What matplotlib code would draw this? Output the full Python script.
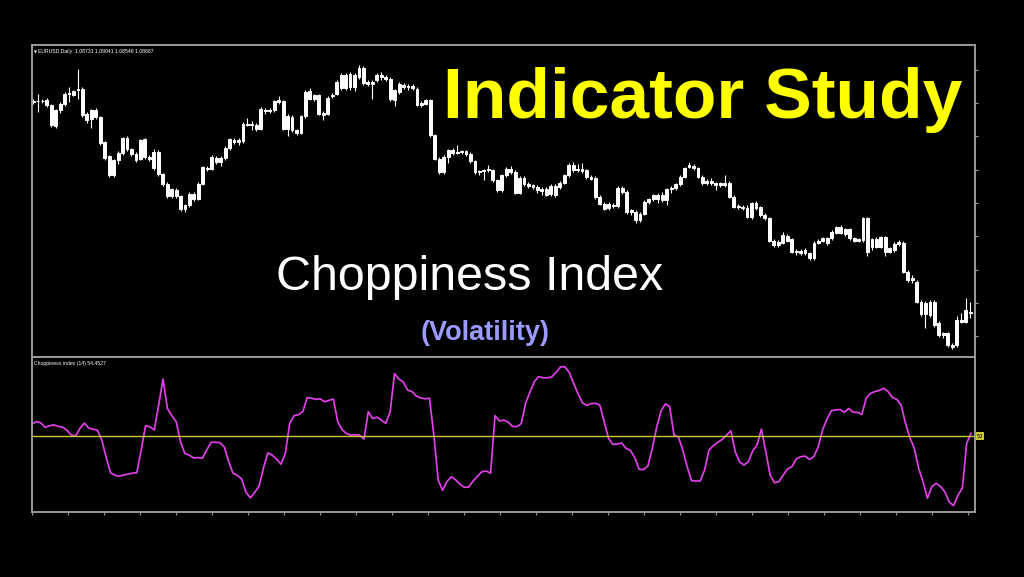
import matplotlib
matplotlib.use("Agg")
import matplotlib.pyplot as plt
import matplotlib.transforms as mtransforms
from matplotlib.ticker import MultipleLocator
import numpy as np

# ---------------- data ----------------
opens = [
    1.1503, 1.1507, 1.1505, 1.1508, 1.1493, 1.1431, 1.1478, 1.1498, 1.1526, 1.1525,
    1.1538, 1.1543, 1.1468, 1.1451, 1.1480, 1.1458, 1.1383, 1.1340, 1.1283, 1.1328,
    1.1351, 1.1395, 1.1361, 1.1348, 1.1333, 1.1391, 1.1338, 1.1353, 1.1353, 1.1286,
    1.1258, 1.1220, 1.1240, 1.1220, 1.1193, 1.1193, 1.1228, 1.1213, 1.1258, 1.1305,
    1.1303, 1.1336, 1.1323, 1.1335, 1.1365, 1.1389, 1.1383, 1.1385, 1.1435, 1.1438,
    1.1435, 1.1423, 1.1478, 1.1475, 1.1478, 1.1503, 1.1505, 1.1423, 1.1458, 1.1418,
    1.1411, 1.1460, 1.1535, 1.1513, 1.1523, 1.1471, 1.1468, 1.1521, 1.1528, 1.1545,
    1.1585, 1.1548, 1.1583, 1.1578, 1.1605, 1.1563, 1.1558, 1.1568, 1.1585, 1.1578,
    1.1573, 1.1508, 1.1533, 1.1555, 1.1548, 1.1551, 1.1543, 1.1495, 1.1498, 1.1508,
    1.1403, 1.1333, 1.1293, 1.1338, 1.1358, 1.1351, 1.1353, 1.1355, 1.1348, 1.1325,
    1.1293, 1.1295, 1.1298, 1.1298, 1.1268, 1.1238, 1.1283, 1.1303, 1.1293, 1.1231,
    1.1275, 1.1258, 1.1253, 1.1248, 1.1243, 1.1243, 1.1228, 1.1251, 1.1248, 1.1261,
    1.1283, 1.1315, 1.1298, 1.1303, 1.1298, 1.1278, 1.1275, 1.1218, 1.1198, 1.1185,
    1.1195, 1.1191, 1.1245, 1.1233, 1.1178, 1.1173, 1.1148, 1.1168, 1.1203, 1.1211,
    1.1211, 1.1225, 1.1209, 1.1241, 1.1244, 1.1256, 1.1279, 1.1309, 1.1311, 1.1304,
    1.1279, 1.1259, 1.1267, 1.1259, 1.1254, 1.1254, 1.1261, 1.1219, 1.1189, 1.1189,
    1.1184, 1.1157, 1.1199, 1.1187, 1.1164, 1.1154, 1.1087, 1.1074, 1.1081, 1.1101,
    1.1091, 1.1054, 1.1057, 1.1049, 1.1049, 1.1034, 1.1081, 1.1087, 1.1094, 1.1094,
    1.1111, 1.1127, 1.1107, 1.1121, 1.1094, 1.1087, 1.1089, 1.1154, 1.1069, 1.1091,
    1.1069, 1.1097, 1.1054, 1.1059, 1.1077, 1.1081, 1.0994, 1.0969, 1.0964, 1.0904,
    1.0867, 1.0864, 1.0904, 1.0841, 1.0804, 1.0809, 1.0774, 1.0774, 1.0849, 1.0844,
    1.08731,
]
closes = [
    1.1507, 1.1505, 1.1507, 1.1493, 1.1433, 1.1478, 1.1498, 1.1528, 1.1529, 1.1535,
    1.1541, 1.1465, 1.1448, 1.1478, 1.1458, 1.1380, 1.1335, 1.1283, 1.1328, 1.1351,
    1.1395, 1.1361, 1.1348, 1.1328, 1.1388, 1.1338, 1.1331, 1.1305, 1.1286, 1.1258,
    1.1220, 1.1241, 1.1220, 1.1183, 1.1183, 1.1228, 1.1213, 1.1258, 1.1307, 1.1301,
    1.1338, 1.1323, 1.1335, 1.1365, 1.1391, 1.1383, 1.1390, 1.1438, 1.1438, 1.1435,
    1.1423, 1.1483, 1.1475, 1.1478, 1.1505, 1.1508, 1.1423, 1.1461, 1.1418, 1.1411,
    1.1460, 1.1533, 1.1513, 1.1523, 1.1468, 1.1465, 1.1516, 1.1525, 1.1563, 1.1585,
    1.1545, 1.1588, 1.1548, 1.1605, 1.1561, 1.1558, 1.1563, 1.1585, 1.1578, 1.1573,
    1.1511, 1.1538, 1.1558, 1.1548, 1.1551, 1.1546, 1.1495, 1.1501, 1.1508, 1.1403,
    1.1333, 1.1293, 1.1338, 1.1358, 1.1351, 1.1353, 1.1355, 1.1348, 1.1325, 1.1293,
    1.1295, 1.1298, 1.1301, 1.1268, 1.1238, 1.1283, 1.1303, 1.1293, 1.1231, 1.1275,
    1.1258, 1.1251, 1.1248, 1.1238, 1.1236, 1.1225, 1.1251, 1.1223, 1.1261, 1.1283,
    1.1315, 1.1298, 1.1303, 1.1295, 1.1278, 1.1273, 1.1218, 1.1198, 1.1183, 1.1198,
    1.1191, 1.1245, 1.1233, 1.1173, 1.1173, 1.1148, 1.1168, 1.1203, 1.1211, 1.1223,
    1.1225, 1.1209, 1.1241, 1.1244, 1.1256, 1.1279, 1.1304, 1.1314, 1.1304, 1.1279,
    1.1259, 1.1267, 1.1259, 1.1254, 1.1259, 1.1261, 1.1219, 1.1189, 1.1191, 1.1184,
    1.1159, 1.1199, 1.1184, 1.1164, 1.1154, 1.1087, 1.1074, 1.1084, 1.1104, 1.1087,
    1.1054, 1.1057, 1.1049, 1.1059, 1.1034, 1.1081, 1.1087, 1.1094, 1.1079, 1.1114,
    1.1127, 1.1111, 1.1121, 1.1094, 1.1087, 1.1091, 1.1154, 1.1054, 1.1091, 1.1069,
    1.1097, 1.1054, 1.1064, 1.1077, 1.1083, 1.0994, 1.0969, 1.0974, 1.0904, 1.0867,
    1.0901, 1.0904, 1.0834, 1.0804, 1.0809, 1.0774, 1.0769, 1.0849, 1.0844, 1.0879,
    1.08687,
]
highs = [
    1.1512, 1.1528, 1.1513, 1.1514, 1.1497, 1.1482, 1.1503, 1.1533, 1.1548, 1.1540,
    1.1603, 1.1547, 1.1472, 1.1483, 1.1486, 1.1462, 1.1387, 1.1345, 1.1333, 1.1356,
    1.1399, 1.1400, 1.1366, 1.1352, 1.1393, 1.1396, 1.1345, 1.1362, 1.1358, 1.1290,
    1.1262, 1.1246, 1.1245, 1.1225, 1.1198, 1.1233, 1.1233, 1.1262, 1.1312, 1.1310,
    1.1344, 1.1341, 1.1340, 1.1370, 1.1396, 1.1394, 1.1395, 1.1443, 1.1455, 1.1445,
    1.1440, 1.1488, 1.1484, 1.1484, 1.1510, 1.1520, 1.1510, 1.1466, 1.1463, 1.1423,
    1.1465, 1.1538, 1.1545, 1.1528, 1.1528, 1.1476, 1.1521, 1.1530, 1.1568, 1.1590,
    1.1590, 1.1593, 1.1590, 1.1615, 1.1612, 1.1568, 1.1568, 1.1590, 1.1592, 1.1583,
    1.1578, 1.1543, 1.1563, 1.1560, 1.1556, 1.1556, 1.1548, 1.1506, 1.1513, 1.1513,
    1.1408, 1.1338, 1.1343, 1.1363, 1.1365, 1.1375, 1.1360, 1.1360, 1.1352, 1.1330,
    1.1300, 1.1303, 1.1315, 1.1303, 1.1272, 1.1288, 1.1308, 1.1310, 1.1298, 1.1280,
    1.1280, 1.1263, 1.1258, 1.1253, 1.1248, 1.1248, 1.1256, 1.1256, 1.1266, 1.1288,
    1.1320, 1.1323, 1.1318, 1.1320, 1.1303, 1.1283, 1.1280, 1.1223, 1.1203, 1.1203,
    1.1200, 1.1250, 1.1250, 1.1238, 1.1183, 1.1178, 1.1173, 1.1208, 1.1216, 1.1228,
    1.1230, 1.1234, 1.1246, 1.1250, 1.1261, 1.1284, 1.1309, 1.1324, 1.1316, 1.1309,
    1.1284, 1.1272, 1.1275, 1.1264, 1.1264, 1.1283, 1.1266, 1.1224, 1.1196, 1.1194,
    1.1194, 1.1204, 1.1206, 1.1192, 1.1169, 1.1159, 1.1092, 1.1089, 1.1112, 1.1106,
    1.1096, 1.1062, 1.1062, 1.1064, 1.1054, 1.1086, 1.1092, 1.1099, 1.1099, 1.1119,
    1.1132, 1.1135, 1.1126, 1.1126, 1.1099, 1.1096, 1.1159, 1.1159, 1.1096, 1.1097,
    1.1102, 1.1102, 1.1069, 1.1082, 1.1090, 1.1086, 1.0999, 1.0985, 1.0969, 1.0909,
    1.0906, 1.0909, 1.0909, 1.0846, 1.0814, 1.0814, 1.0779, 1.0862, 1.0870, 1.0914,
    1.09041,
]
lows = [
    1.1497, 1.1473, 1.1499, 1.1488, 1.1428, 1.1426, 1.1470, 1.1492, 1.1503, 1.1520,
    1.1513, 1.1458, 1.1440, 1.1425, 1.1452, 1.1374, 1.1328, 1.1278, 1.1278, 1.1318,
    1.1345, 1.1355, 1.1340, 1.1322, 1.1328, 1.1332, 1.1325, 1.1300, 1.1281, 1.1252,
    1.1215, 1.1214, 1.1215, 1.1176, 1.1172, 1.1188, 1.1205, 1.1208, 1.1253, 1.1296,
    1.1298, 1.1316, 1.1310, 1.1330, 1.1360, 1.1378, 1.1375, 1.1380, 1.1430, 1.1420,
    1.1415, 1.1418, 1.1468, 1.1470, 1.1472, 1.1498, 1.1418, 1.1400, 1.1413, 1.1405,
    1.1406, 1.1455, 1.1508, 1.1505, 1.1463, 1.1450, 1.1463, 1.1516, 1.1523, 1.1540,
    1.1540, 1.1540, 1.1535, 1.1572, 1.1555, 1.1550, 1.1513, 1.1562, 1.1570, 1.1565,
    1.1505, 1.1490, 1.1528, 1.1543, 1.1540, 1.1540, 1.1490, 1.1488, 1.1493, 1.1398,
    1.1328, 1.1288, 1.1288, 1.1320, 1.1345, 1.1346, 1.1346, 1.1342, 1.1320, 1.1288,
    1.1283, 1.1270, 1.1292, 1.1263, 1.1232, 1.1233, 1.1278, 1.1288, 1.1226, 1.1226,
    1.1252, 1.1246, 1.1243, 1.1230, 1.1225, 1.1220, 1.1222, 1.1218, 1.1243, 1.1256,
    1.1278, 1.1293, 1.1293, 1.1290, 1.1273, 1.1268, 1.1213, 1.1193, 1.1178, 1.1180,
    1.1186, 1.1186, 1.1228, 1.1168, 1.1165, 1.1140, 1.1143, 1.1163, 1.1198, 1.1206,
    1.1200, 1.1204, 1.1195, 1.1230, 1.1239, 1.1251, 1.1274, 1.1304, 1.1299, 1.1274,
    1.1254, 1.1254, 1.1254, 1.1240, 1.1249, 1.1249, 1.1214, 1.1184, 1.1182, 1.1179,
    1.1154, 1.1152, 1.1179, 1.1159, 1.1149, 1.1082, 1.1069, 1.1069, 1.1076, 1.1082,
    1.1049, 1.1044, 1.1044, 1.1044, 1.1029, 1.1029, 1.1076, 1.1082, 1.1074, 1.1089,
    1.1106, 1.1106, 1.1102, 1.1089, 1.1082, 1.1082, 1.1084, 1.1040, 1.1060, 1.1064,
    1.1064, 1.1040, 1.1049, 1.1054, 1.1072, 1.0989, 1.0964, 1.0959, 1.0899, 1.0862,
    1.0824, 1.0859, 1.0829, 1.0799, 1.0794, 1.0769, 1.0762, 1.0769, 1.0839, 1.0839,
    1.08546,
]
chop_index = [
    54.0, 54.8, 54.4, 52.9, 53.4, 53.7, 53.2, 53.0, 51.9, 50.3,
    50.0, 52.6, 54.3, 52.6, 52.3, 51.9, 48.6, 42.8, 37.7, 36.9,
    36.6, 37.0, 37.3, 37.6, 37.8, 45.3, 53.4, 53.1, 52.0, 60.3,
    69.0, 59.2, 56.8, 54.8, 48.1, 44.2, 43.6, 42.7, 42.8, 42.6,
    45.3, 47.9, 47.9, 47.8, 46.4, 41.7, 37.6, 36.9, 35.7, 31.2,
    29.4, 31.2, 33.3, 39.4, 44.4, 43.6, 42.3, 40.6, 44.2, 54.2,
    56.8, 57.1, 58.1, 62.8, 62.6, 62.2, 62.4, 61.4, 61.9, 62.3,
    54.8, 52.1, 50.8, 50.3, 50.4, 50.3, 49.0, 58.1, 55.8, 56.3,
    55.3, 54.2, 58.1, 70.8, 69.0, 68.0, 65.3, 64.8, 63.3, 62.7,
    62.4, 62.6, 50.3, 35.3, 31.9, 34.8, 36.4, 35.4, 33.9, 32.9,
    33.0, 35.0, 36.6, 38.1, 38.3, 37.6, 56.8, 55.0, 55.3, 54.7,
    53.2, 53.1, 54.1, 60.9, 64.6, 68.1, 69.8, 69.4, 69.4, 69.7,
    71.2, 73.0, 73.1, 71.2, 67.6, 64.1, 61.1, 60.2, 60.8, 60.9,
    60.3, 54.8, 49.2, 47.2, 47.3, 47.7, 45.9, 45.2, 42.8, 38.9,
    38.8, 40.0, 45.7, 52.8, 58.3, 60.7, 59.8, 50.3, 49.7, 45.3,
    39.8, 35.1, 35.0, 35.0, 38.7, 45.3, 46.8, 47.9, 48.8, 50.3,
    51.7, 44.8, 41.4, 40.3, 41.4, 45.0, 47.0, 52.3, 44.8, 37.0,
    34.4, 34.8, 37.0, 39.0, 39.8, 42.4, 43.1, 43.3, 42.2, 43.1,
    46.4, 52.0, 55.6, 58.4, 58.7, 58.8, 57.9, 59.2, 57.9, 57.9,
    57.2, 62.6, 64.2, 64.8, 65.2, 65.9, 64.8, 62.8, 62.2, 60.3,
    54.2, 49.4, 45.9, 39.2, 34.8, 29.2, 33.1, 34.2, 33.2, 31.4,
    28.0, 26.8, 30.3, 32.6, 47.6, 50.9,
]
chop_level = 50.0

price_header = "EURUSD,Daily  1.08731 1.09041 1.08546 1.08687"
indicator_header = "Choppiness index (14) 54.4527"
title_text = "Indicator Study"
subtitle_text = "Choppiness Index"
note_text = "(Volatility)"

# ---------------- figure ----------------
W, H = 1024, 577
fig = plt.figure(figsize=(W / 100, H / 100), dpi=100, facecolor="black")

def fx(px):
    return px / W

def fy(py):
    return 1 - py / H

frame_col = "#9a9a9a"
ax1 = fig.add_axes([fx(32), fy(357), fx(975) - fx(32), fy(45) - fy(357)])
ax2 = fig.add_axes([fx(32), fy(512), fx(975) - fx(32), fy(357) - fy(512)])
for ax in (ax1, ax2):
    ax.set_facecolor("black")
    for s in ax.spines.values():
        s.set_color(frame_col)
        s.set_linewidth(1.4)

# candlesticks
o = np.array(opens)
c = np.array(closes)
x = np.arange(len(o))
body_lo = np.minimum(o, c)
body_h = np.abs(c - o)
ax1.vlines(x, lows, highs, color="white", linewidth=0.8)
ax1.bar(x, body_h, bottom=body_lo, width=0.64, color="white",
        edgecolor="white", linewidth=0.7)
ax1.set_xlim(-0.3, len(o) - 1 + 1.1)
ax1.set_ylim(1.0738, 1.1674)
ax1.set_xticks([])
ax1.yaxis.tick_right()
ax1.yaxis.set_major_locator(MultipleLocator(0.0100))
ax1.tick_params(axis="y", direction="out", length=2, color=frame_col,
                labelright=False, labelleft=False)

# choppiness index
xc = np.arange(len(chop_index))
ax2.plot(xc, chop_index, color="#e040e8", linewidth=1.25)
ax2.axhline(chop_level, color="#c8c832", linewidth=1.0)
ax2.set_xlim(0, len(chop_index) - 1 + 0.9)
ax2.set_ylim(24.67, 76.33)
ax2.xaxis.set_major_locator(MultipleLocator(8.24))
ax2.tick_params(axis="x", direction="out", length=2, color=frame_col,
                labelbottom=False)
ax2.set_yticks([])

# level label box at the right edge
trans = mtransforms.blended_transform_factory(ax2.transAxes, ax2.transData)
ax2.text(1.002, chop_level, "50", transform=trans, fontsize=3.5, color="black",
         ha="left", va="center",
         bbox=dict(boxstyle="square,pad=0.25", facecolor="#c8c832",
                   edgecolor="none"), clip_on=False)

# small headers
fig.text(fx(34), fy(52), "\u25BC", color="white", fontsize=2.8, va="center",
         ha="left")
fig.text(fx(37.5), fy(52), price_header, color="white", fontsize=3.7,
         va="center", ha="left", family="Liberation Sans")
fig.text(fx(34), fy(363), indicator_header, color="white", fontsize=3.7,
         va="center", ha="left", family="Liberation Sans")

# big texts
fig.text(fx(702.5), fy(118), title_text, color="#ffff00", fontsize=51.4,
         fontweight="bold", family="Liberation Sans", ha="center",
         va="baseline")
fig.text(fx(469.5), fy(290), subtitle_text, color="white", fontsize=34.8,
         family="Liberation Sans", ha="center", va="baseline")
fig.text(fx(485.5), fy(340), note_text, color="#9a9aff", fontsize=19.5,
         fontweight="bold", family="Liberation Sans", ha="center",
         va="baseline")

fig.savefig("out.png", dpi=100, facecolor="black")
